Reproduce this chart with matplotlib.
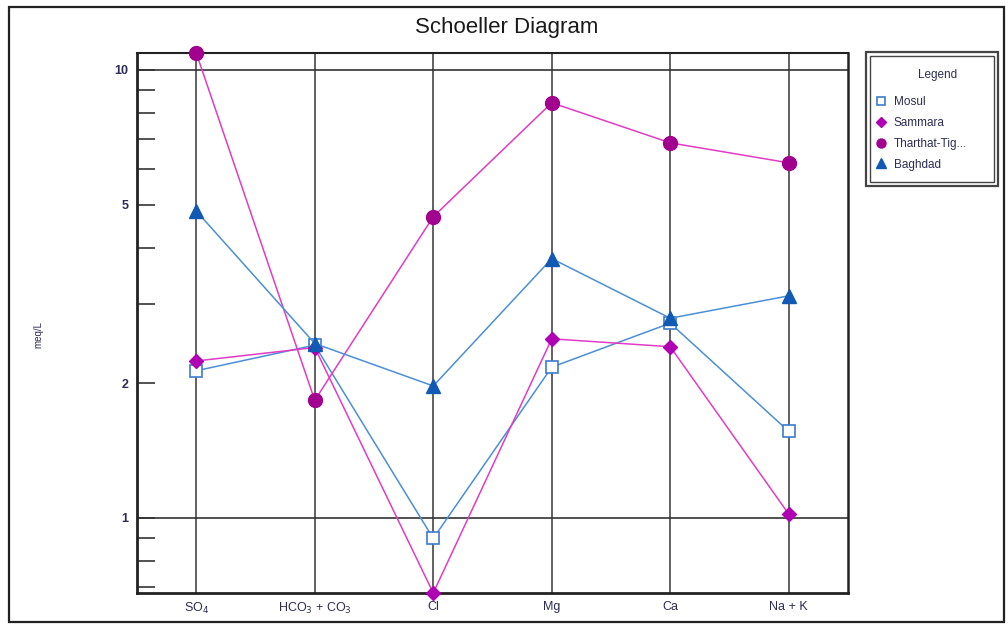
"""
Schoeller diagram: four water samples on a log meq/L scale.
"""

import matplotlib
matplotlib.use("Agg")
import matplotlib.pyplot as plt
from matplotlib.patches import Rectangle
from matplotlib.lines import Line2D
from matplotlib.ticker import FixedLocator, NullFormatter


# ── Data ──────────────────────────────────────────────────────────────────────

ions = ["SO$_4$", "HCO$_3$ + CO$_3$", "Cl", "Mg", "Ca", "Na + K"]

mosul     = [2.13, 2.43, 0.90, 2.17, 2.72, 1.56]
sammara   = [2.24, 2.40, 0.68, 2.51, 2.41, 1.02]
tharthat  = [10.9, 1.83, 4.70, 8.44, 6.87, 6.20]
baghdad   = [4.84, 2.45, 1.97, 3.79, 2.79, 3.13]

series_names = ["Mosul", "Sammara", "Tharthat-Tig...", "Baghdad"]


# ── Style ─────────────────────────────────────────────────────────────────────

BLUE_LINE    = "#4b8fd6"
PINK_LINE    = "#e03cc6"
LABEL_COLOUR = "#2c2c55"
FONT         = "Liberation Sans"

plt.rcParams["font.family"] = [FONT, "DejaVu Sans"]

styles = [
    dict(color=BLUE_LINE, marker="s", ms=8.5, mfc="white", mec="#3d7ccc", mew=1.2),
    dict(color=PINK_LINE, marker="D", ms=7.5, mfc="#b000b4", mec="#b000b4"),
    dict(color=PINK_LINE, marker="o", ms=10, mfc="#a2008e", mec="#a2008e"),
    dict(color=BLUE_LINE, marker="^", ms=10, mfc="#1159b2", mec="#1159b2"),
]


# ── Figure ────────────────────────────────────────────────────────────────────

fig = plt.figure(figsize=(10.08, 6.24), dpi=100)
W, H = 1008, 624

def fx(px):
    return px / W

def fy(py):
    return 1 - py / H

# outer frame
fig.patches.append(Rectangle((fx(9), fy(622)), fx(1004) - fx(9), fy(7) - fy(622),
                             transform=fig.transFigure, fill=False,
                             edgecolor="#222222", lw=1.6))

ax = fig.add_axes([fx(137), fy(593), fx(848) - fx(137), fy(53) - fy(593)])

x = list(range(len(ions)))

# category verticals and decade lines
for xi in x:
    ax.axvline(xi, color="#555555", lw=1.3, zorder=1)
for yv in (1, 10):
    ax.axhline(yv, color="#333333", lw=1.2, zorder=1)

for vals, st in zip([mosul, sammara, tharthat, baghdad], styles):
    ax.plot(x, vals, lw=1.1, zorder=3, clip_on=False, **st)

ax.set_yscale("log")
ax.set_ylim(0.68, 10.9)
ax.set_xlim(-0.5, 5.5)

ax.yaxis.set_major_locator(FixedLocator([1, 2, 5, 10]))
ax.yaxis.set_minor_locator(FixedLocator([0.7, 0.8, 0.9, 3, 4, 6, 7, 8, 9]))
ax.yaxis.set_minor_formatter(NullFormatter())
ax.set_yticklabels(["1", "2", "5", "10"], fontweight="bold")
ax.tick_params(axis="y", which="both", direction="in", length=13, width=1.2,
               color="#333333", labelsize=9, labelcolor=LABEL_COLOUR, pad=6)

ax.set_xticks(x)
ax.set_xticklabels(ions)
ax.tick_params(axis="x", length=0, labelsize=9, labelcolor=LABEL_COLOUR, pad=6)

for side, lw in [("left", 2.0), ("bottom", 2.0), ("top", 1.5), ("right", 1.8)]:
    ax.spines[side].set_linewidth(lw)
    ax.spines[side].set_color("#222222")

fig.text(fx(38), fy(335), "meq/L", rotation=90, ha="center", va="center",
         fontsize=7, color=LABEL_COLOUR)

fig.text(fx(507), fy(27), "Schoeller Diagram", ha="center", va="center",
         fontsize=16, color="#1a1a1a")


# ── Legend (double frame drawn by hand) ───────────────────────────────────────

for x0, y0, x1, y1, lw in [(866, 52, 998, 186, 1.6), (870, 56, 994, 182, 1.0)]:
    fig.patches.append(Rectangle((fx(x0), fy(y1)), fx(x1) - fx(x0), fy(y0) - fy(y1),
                                 transform=fig.transFigure, fill=False,
                                 edgecolor="#444444", lw=lw))

handles = [Line2D([], [], ls="none", **{k: v for k, v in st.items() if k != "color"})
           for st in styles]
for h in handles:
    h.set_markersize(h.get_markersize() * 0.65)

fig.text(fx(938), fy(75), "Legend", ha="center", va="center",
         fontsize=8.5, color=LABEL_COLOUR)
leg = fig.legend(handles, series_names, loc="upper left",
                 bbox_to_anchor=(fx(876), fy(96)), frameon=False,
                 fontsize=8.5, handlelength=0.8, handletextpad=0.7,
                 labelspacing=0.75, borderaxespad=0, borderpad=0)
for t in leg.get_texts():
    t.set_color(LABEL_COLOUR)

fig.savefig("out.png", dpi=100)
